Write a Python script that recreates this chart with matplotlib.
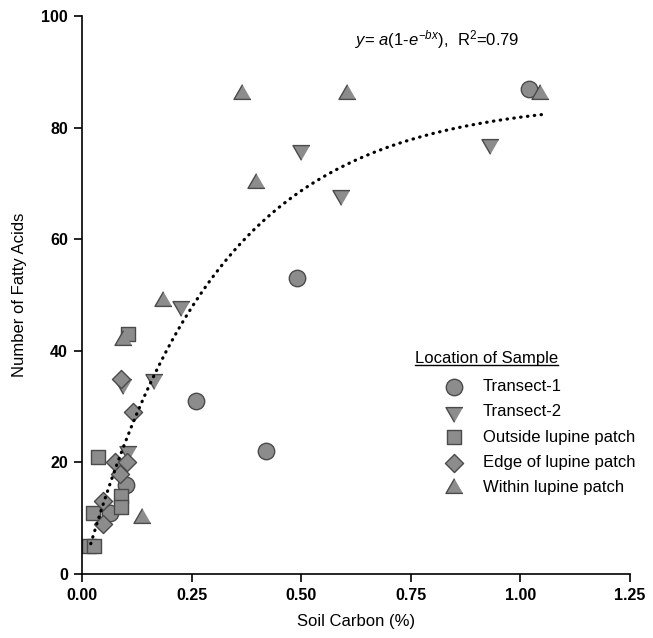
import numpy as np
import matplotlib
matplotlib.use('Agg')
import matplotlib.pyplot as plt
from matplotlib.lines import Line2D

plt.rcParams['font.family'] = ['Liberation Sans', 'DejaVu Sans']
plt.rcParams['mathtext.fontset'] = 'custom'
plt.rcParams['mathtext.rm'] = 'Liberation Sans'
plt.rcParams['mathtext.it'] = 'Liberation Sans:italic'

# === Data ===
transect1_x = [1.02, 0.49, 0.26, 0.42, 0.10, 0.065]
transect1_y = [87, 53, 31, 22, 16, 11]

transect2_x = [0.93, 0.50, 0.59, 0.225, 0.165, 0.094, 0.105]
transect2_y = [77, 76, 68, 48, 35, 34, 22]

outside_x = [0.105, 0.037, 0.026, 0.09, 0.09, 0.016, 0.027]
outside_y = [43, 21, 11, 14, 12, 5, 5]

edge_x = [0.09, 0.117, 0.075, 0.102, 0.087, 0.047, 0.049]
edge_y = [35, 29, 20, 20, 18, 13, 9]

within_x = [0.364, 0.604, 1.045, 0.397, 0.184, 0.094, 0.136]
within_y = [86, 86, 86, 70, 49, 42, 10]

# fitted model y = a(1 - exp(-b x))
fit_a = 85.0
fit_b = 3.3
fit_xmin, fit_xmax = 0.02, 1.048

x_ticks = [0.00, 0.25, 0.50, 0.75, 1.00, 1.25]
y_ticks = [0, 20, 40, 60, 80, 100]

# === Plot ===
fig = plt.figure(figsize=(6.53, 6.38), dpi=100)
ax = fig.add_axes([82 / 653, 64 / 638, 548 / 653, 558 / 638])

tri_up = [(0, 1), (-0.866, -0.5), (0.866, -0.5)]
tri_down = [(0, -1), (-0.866, 0.5), (0.866, 0.5)]

face = '#8c8c8c'
edge = '#4a4a4a'
common = dict(facecolor=face, edgecolor=edge, linewidths=1.0, clip_on=False)

ax.scatter(transect1_x, transect1_y, marker='o', s=140, label='Transect-1', **common)
ax.scatter(transect2_x, transect2_y, marker=tri_down, s=200, label='Transect-2', **common)
ax.scatter(outside_x, outside_y, marker='s', s=115, label='Outside lupine patch', **common)
ax.scatter(edge_x, edge_y, marker='D', s=85, label='Edge of lupine patch', **common)
ax.scatter(within_x, within_y, marker=tri_up, s=200, label='Within lupine patch', **common)

xfit = np.linspace(fit_xmin, fit_xmax, 200)
yfit = fit_a * (1 - np.exp(-fit_b * xfit))
ax.plot(xfit, yfit, color='black', linewidth=2.3, linestyle=(0, (0.15, 2.0)),
        dash_capstyle='round', zorder=5)

ax.text(0.623, 95.7, r'$y$= $a$(1-$e^{-bx}$),  R$^2$=0.79', fontsize=12, va='center', ha='left')

ax.set_xlim(0, 1.25)
ax.set_ylim(0, 100)
ax.set_xticks(x_ticks)
ax.set_xticklabels([f'{t:.2f}' for t in x_ticks])
ax.set_yticks(y_ticks)
for lbl in ax.get_xticklabels() + ax.get_yticklabels():
    lbl.set_fontweight('bold')
    lbl.set_fontsize(11.5)
ax.tick_params(direction='out', length=6, width=1.2, pad=4)
ax.spines['top'].set_visible(False)
ax.spines['right'].set_visible(False)
ax.spines['left'].set_linewidth(1.2)
ax.spines['bottom'].set_linewidth(1.2)

ax.set_xlabel('Soil Carbon (%)', fontsize=12, labelpad=8)
ax.set_ylabel('Number of Fatty Acids', fontsize=12, labelpad=10)

# legend with separate underlined title
leg = ax.legend(loc='upper left', bbox_to_anchor=(446 / 653, 1 - 379 / 638),
                bbox_transform=fig.transFigure, frameon=False, fontsize=12,
                handlelength=1.0, handletextpad=1.2, labelspacing=0.62,
                borderpad=0, borderaxespad=0, scatterpoints=1)
title = fig.text(415 / 653, 1 - 358 / 638, 'Location of Sample', fontsize=12,
                 ha='left', va='center')
fig.canvas.draw()
bb = title.get_window_extent().transformed(fig.transFigure.inverted())
fig.add_artist(Line2D([bb.x0, bb.x1], [bb.y0 + 0.001, bb.y0 + 0.001],
                      transform=fig.transFigure, color='black', linewidth=1.0))

fig.savefig('out.png', dpi=100)
